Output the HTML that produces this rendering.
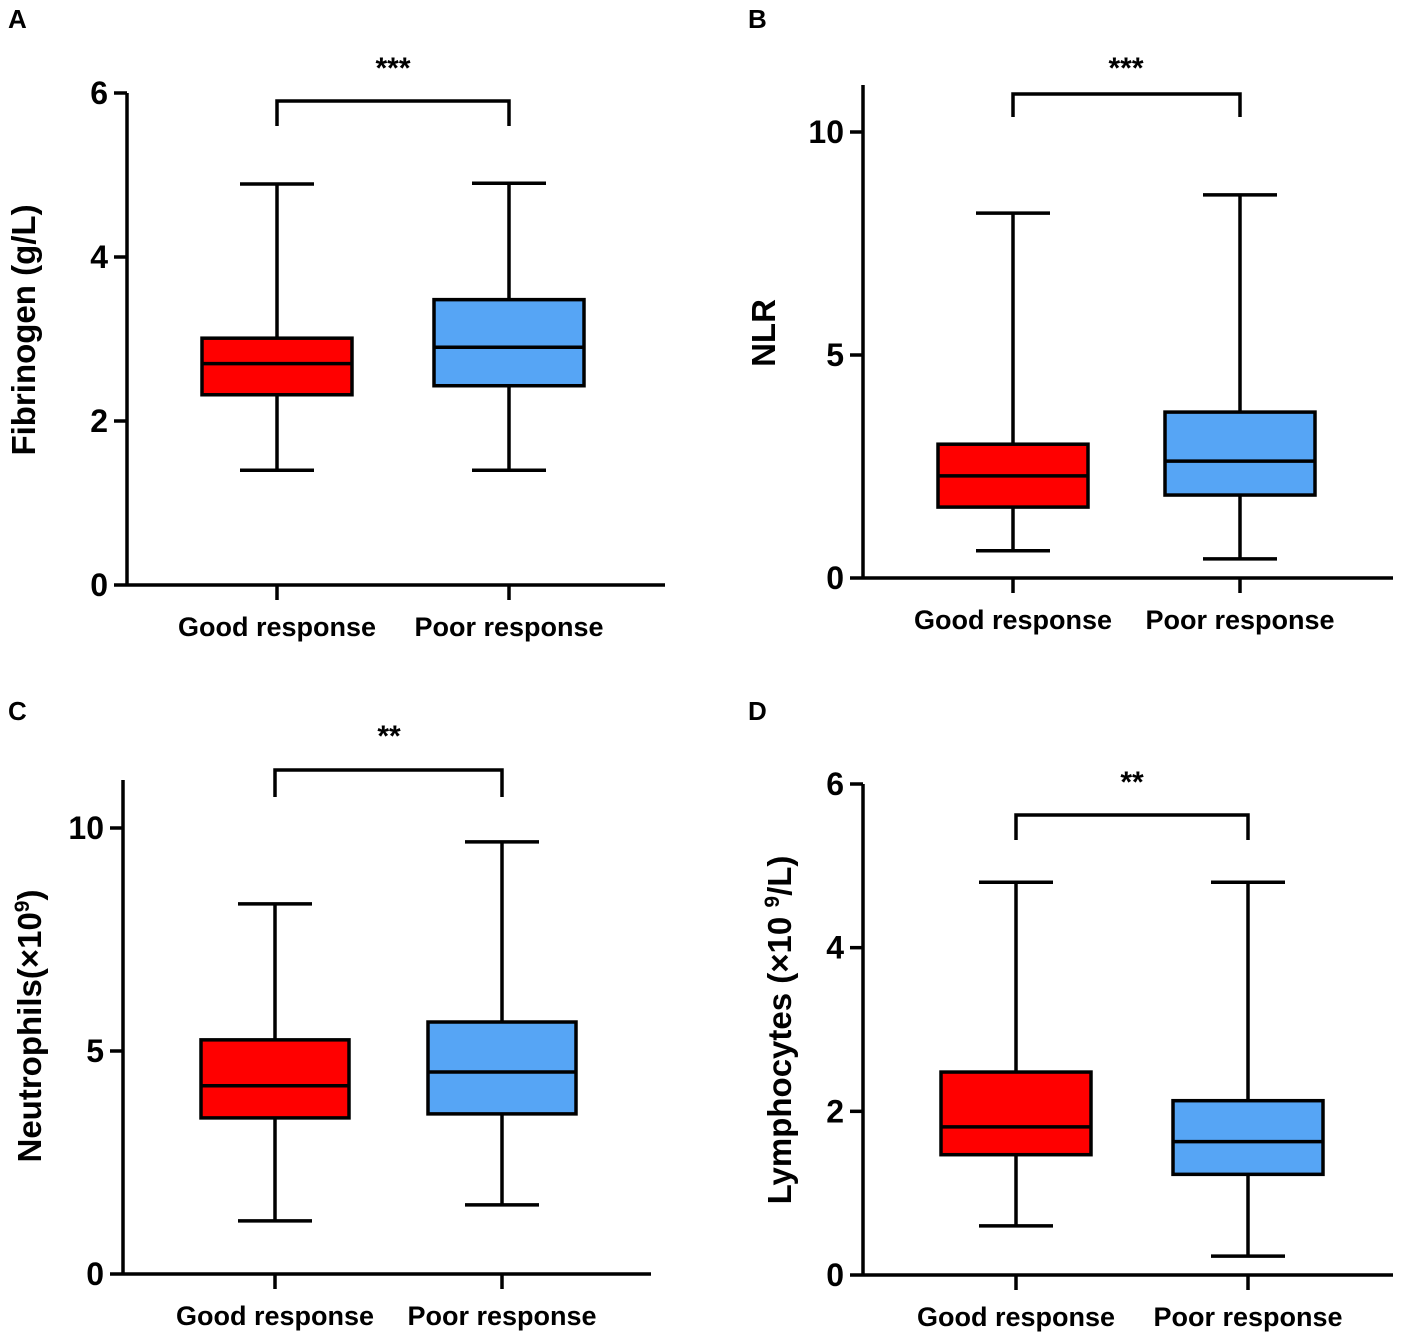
<!DOCTYPE html>
<html><head><meta charset="utf-8"><style>
html,body{margin:0;padding:0;background:#fff}
svg{display:block;font-family:"Liberation Sans",Arial,sans-serif;font-weight:bold}
</style></head><body>
<svg id="c" width="1417" height="1339" viewBox="0 0 1417 1339"></svg>
<script>
// ---- data ----
const categories = ["Good response","Poor response"];
const fibMax=[4.89,4.90], fibQ3=[3.01,3.48], fibMed=[2.70,2.90], fibQ1=[2.32,2.43], fibMin=[1.40,1.40];
const nlrMax=[8.18,8.59], nlrQ3=[3.00,3.72], nlrMed=[2.29,2.62], nlrQ1=[1.59,1.86], nlrMin=[0.61,0.43];
const neuMax=[8.30,9.69], neuQ3=[5.25,5.65], neuMed=[4.22,4.53], neuQ1=[3.50,3.59], neuMin=[1.19,1.55];
const lymMax=[4.80,4.80], lymQ3=[2.48,2.13], lymMed=[1.81,1.63], lymQ1=[1.47,1.23], lymMin=[0.60,0.23];
const fibTicks=[0,2,4,6], nlrTicks=[0,5,10], neuTicks=[0,5,10], lymTicks=[0,2,4,6];
const sigLabels=["***","***","**","**"];
const panelLetters=["A","B","C","D"];

// ---- layout ----
const panels=[
 {ax:127,y0:585,yTop:93,vTop:6,axTop:93,xEnd:665,cx:[277,509],bw:150,br:101,brEnd:126,sx:393,sy:70,lx:8,ly:28,
  data:[fibMax,fibQ3,fibMed,fibQ1,fibMin],ticks:fibTicks,title:"Fibrinogen (g/L)",tx:35,ty:330,name:"fibrinogen"},
 {ax:863,y0:578,yTop:132,vTop:10,axTop:85,xEnd:1393,cx:[1013,1240],bw:150,br:94,brEnd:117,sx:1126,sy:70,lx:748,ly:28,
  data:[nlrMax,nlrQ3,nlrMed,nlrQ1,nlrMin],ticks:nlrTicks,title:"NLR",tx:775,ty:333,name:"nlr"},
 {ax:123,y0:1274,yTop:828,vTop:10,axTop:780,xEnd:651,cx:[275,502],bw:148,br:770,brEnd:797,sx:389,sy:738,lx:8,ly:720,
  data:[neuMax,neuQ3,neuMed,neuQ1,neuMin],ticks:neuTicks,title:"Neutrophils(×10<tspan dy='-12' font-size='21'>9</tspan><tspan dy='12'>)</tspan>",tx:41,ty:1026,name:"neutrophils"},
 {ax:863,y0:1275,yTop:784,vTop:6,axTop:784,xEnd:1393,cx:[1016,1248],bw:150,br:815,brEnd:840,sx:1132,sy:784,lx:748,ly:720,
  data:[lymMax,lymQ3,lymMed,lymQ1,lymMin],ticks:lymTicks,title:"Lymphocytes (×10 <tspan dy='-12' font-size='21'>9</tspan><tspan dy='12'>/L)</tspan>",tx:791,ty:1030,name:"lymphocytes"}
];
const colors=["#ff0000","#56a5f5"];
const svg=document.getElementById('c');
const NS="http://www.w3.org/2000/svg";
function mk(tag,attrs,parent){const e=document.createElementNS(NS,tag);for(const k in attrs)e.setAttribute(k,attrs[k]);(parent||svg).appendChild(e);return e;}
const S={stroke:"#000","stroke-width":3.5,fill:"none"};

panels.forEach((p,pi)=>{
  const g=mk('g',{});
  
  
  const y=v=>p.y0-(v/p.vTop)*(p.y0-p.yTop);
  const L=mk('text',{x:p.lx,y:p.ly,"font-size":26},g);L.textContent=panelLetters[pi];
  
  const ya=mk('line',Object.assign({x1:p.ax,y1:p.axTop,x2:p.ax,y2:p.y0},S),g);
  
  const xa=mk('line',Object.assign({x1:p.ax,y1:p.y0,x2:p.xEnd,y2:p.y0},S),g);
  
  p.ticks.forEach(t=>{
    mk('line',Object.assign({x1:p.ax-13,y1:y(t),x2:p.ax,y2:y(t)},S),g);
    const tl=mk('text',{x:p.ax-19,y:y(t)+11,"font-size":32,"text-anchor":"end"},g);tl.textContent=t;
    
  });
  const tt=mk('text',{x:0,y:0,"font-size":33,"text-anchor":"middle",transform:`translate(${p.tx},${p.ty}) rotate(-90)`},g);
  tt.innerHTML=p.title;
  
  const [mx,q3,md,q1,mn]=p.data;
  categories.forEach((c,i)=>{
    const cx=p.cx[i],hw=p.bw/2,wh=37;
    mk('line',Object.assign({x1:cx,y1:p.y0,x2:cx,y2:p.y0+15},S),g);
    const cl=mk('text',{x:cx,y:p.y0+51,"font-size":27,"text-anchor":"middle"},g);cl.textContent=c;
    
    const bg=mk('g',{},g);
    
    
    mk('line',Object.assign({x1:cx,y1:y(mx[i]),x2:cx,y2:y(q3[i])},S),bg);
    mk('line',Object.assign({x1:cx,y1:y(q1[i]),x2:cx,y2:y(mn[i])},S),bg);
    mk('line',Object.assign({x1:cx-wh,y1:y(mx[i]),x2:cx+wh,y2:y(mx[i])},S),bg);
    mk('line',Object.assign({x1:cx-wh,y1:y(mn[i]),x2:cx+wh,y2:y(mn[i])},S),bg);
    mk('rect',{x:cx-hw,y:y(q3[i]),width:p.bw,height:y(q1[i])-y(q3[i]),fill:colors[i],stroke:"#000","stroke-width":3.5},bg);
    mk('line',Object.assign({x1:cx-hw,y1:y(md[i]),x2:cx+hw,y2:y(md[i])},S),bg);
  });
  const b=mk('polyline',Object.assign({points:`${p.cx[0]},${p.brEnd} ${p.cx[0]},${p.br} ${p.cx[1]},${p.br} ${p.cx[1]},${p.brEnd}`},S),g);
  
  const st=mk('text',{x:p.sx,y:p.sy+8,"font-size":30,"text-anchor":"middle"},g);st.textContent=sigLabels[pi];
  
});
</script>
</body></html>
